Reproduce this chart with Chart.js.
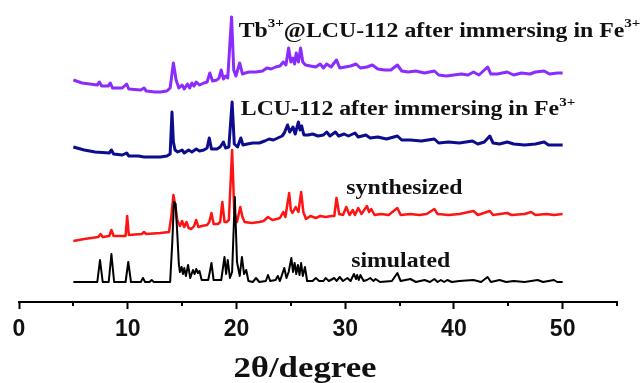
<!DOCTYPE html>
<html>
<head>
<meta charset="utf-8">
<script src="https://cdn.jsdelivr.net/npm/chart.js@4"></script>
<style>
html,body{margin:0;padding:0;background:#fff;}
#wrap{width:640px;height:383px;}
</style>
</head>
<body>
<div id="wrap"><canvas id="c" width="640" height="383"></canvas></div>
<script>
// ---- data (2theta, stacked intensity in arbitrary units) ----
const xTickValues = [0, 10, 20, 30, 40, 50];
const seriesNames = ['Tb@LCU-112 after immersing in Fe', 'LCU-112 after immersing in Fe', 'synthesized', 'simulated'];

const simulated = [[5,20],[7.2,20],[7.45,42],[7.7,20],[8.25,20],[8.5,48],[8.75,20],[9.8,20],[10.05,40],[10.3,20],[11.2,20],[11.4,24],[11.6,20],[12.0,20],[12.2,22],[12.4,20],[13.9,20],[14.1,60],[14.25,100],[14.4,98],[14.55,70],[14.7,38],[14.8,30],[14.95,35],[15.08,28],[15.2,34],[15.35,26],[15.55,37],[15.75,24],[16.0,32],[16.15,28],[16.3,33],[16.45,29],[16.6,31],[16.8,22],[17.4,22],[17.55,30],[17.7,39],[17.9,22],[18.6,22],[18.9,45],[19.05,28],[19.2,42],[19.4,24],[19.6,30],[19.85,105],[20.05,40],[20.3,26],[20.5,45],[20.7,28],[20.9,32],[21.1,21],[21.5,20],[21.8,24],[22.1,20],[22.7,21],[22.9,27],[23.1,21],[23.6,22],[23.8,26],[24.0,21],[24.4,34],[24.6,24],[24.8,30],[25.05,44],[25.2,30],[25.35,39],[25.5,28],[25.65,37],[25.8,27],[25.95,39],[26.1,26],[26.3,35],[26.5,21],[27.0,21],[27.3,24],[27.6,21],[28.0,21],[28.2,24],[28.5,21],[29.0,24],[29.2,21],[29.5,25],[29.8,21],[30.2,24],[30.5,21],[30.8,28],[31.0,23],[31.1,27],[31.25,22],[31.4,27],[31.7,21],[32.0,22],[32.3,24],[32.6,21],[32.8,23],[33.2,20],[34.3,21],[34.8,29],[35.1,21],[36.0,23],[36.5,20],[37.3,22],[37.8,20],[38.2,23],[38.5,20],[38.8,22],[39.1,20],[39.4,22],[39.8,20],[40.5,21],[41.8,22],[42.5,20],[43.1,25],[43.4,20],[44.2,22],[44.8,20],[45.5,21],[46.5,20],[47.7,22],[48.2,20],[49.2,22],[49.5,20],[50,20]];

const synthesized = [[5,61],[6,63],[7.3,65],[7.5,68],[7.7,65],[8.3,66],[8.5,72],[8.7,66],[9.8,66],[9.95,86],[10.1,67],[11.3,68],[11.5,70],[11.7,68],[13.0,69],[13.8,70],[14.0,85],[14.2,107],[14.4,95],[14.55,82],[14.8,76],[15.0,81],[15.2,75],[15.4,80],[15.6,74],[15.85,73],[16.1,76],[16.3,82],[16.5,75],[16.8,76],[17.3,77],[17.5,80],[17.7,89],[17.9,78],[18.3,78],[18.5,80],[18.7,100],[18.9,80],[19.1,80],[19.3,82],[19.6,152],[19.8,90],[20.05,80],[20.35,95],[20.55,85],[20.75,80],[21.4,79],[22.1,80],[22.5,81],[22.9,85],[23.3,82],[23.7,83],[24.0,84],[24.3,90],[24.5,85],[24.85,109],[25.0,92],[25.15,89],[25.45,95],[25.7,90],[25.95,110],[26.15,90],[26.4,83],[26.8,86],[27.3,84],[27.7,86],[28.2,85],[28.7,86],[29.0,86],[29.2,104],[29.45,88],[29.8,87],[30.1,95],[30.4,87],[30.7,92],[30.9,87],[31.2,94],[31.5,88],[32.0,96],[32.2,90],[32.4,93],[32.7,87],[33.3,88],[34.0,87],[34.8,94],[35.1,87],[36.0,88],[36.8,87],[37.5,88],[38.2,93],[38.5,88],[39.5,87],[40.5,88],[41.8,91],[42.2,87],[43.3,91],[43.6,87],[44.9,89],[45.3,87],[46.5,88],[47.1,90],[47.5,87],[48.5,88],[49.2,87],[50,88]];

const lcuFe = [[5,155],[6,152],[7,150],[8.3,149],[8.5,152],[8.7,148],[9.5,147],[9.9,149],[10.1,146],[11,146],[11.5,145],[12.5,145],[13.0,145],[13.6,146],[13.9,148],[14.07,190],[14.2,160],[14.35,152],[14.6,150],[15.0,152],[15.2,149],[15.6,152],[15.9,150],[16.3,153],[16.6,151],[17.0,152],[17.3,154],[17.5,164],[17.7,153],[18.2,153],[18.5,155],[18.8,160],[19.0,154],[19.3,155],[19.6,200],[19.8,158],[20.1,155],[20.4,164],[20.6,157],[21.0,158],[21.5,159],[22.1,159],[22.6,161],[23.0,163],[23.4,162],[23.8,164],[24.2,166],[24.4,169],[24.7,177],[24.9,170],[25.2,175],[25.4,168],[25.7,180],[25.85,172],[26.0,176],[26.2,167],[26.6,167],[27.0,168],[27.5,166],[28.0,167],[28.3,170],[28.6,166],[29.1,170],[29.4,166],[29.9,168],[30.3,166],[30.9,169],[31.2,165],[31.9,167],[32.3,164],[33.0,165],[33.8,163],[34.8,166],[35.2,162],[36.0,162],[37.0,161],[38.2,163],[38.6,159],[39.5,160],[40.5,159],[41.7,161],[42.2,158],[42.8,160],[43.3,166],[43.6,159],[44.2,158],[44.9,160],[45.5,158],[46.5,157],[47.5,158],[48.3,160],[48.7,157],[49.5,157],[50,157]];

const tbLcuFe = [[5,222],[5.8,219],[6.5,218],[7.2,217],[7.4,220],[7.6,216],[8.2,216],[8.4,219],[8.6,214],[9.5,214],[9.9,218],[10.1,213],[11.2,212],[11.5,214],[11.7,211],[12.5,210],[13.0,210],[13.6,211],[13.9,214],[14.2,239],[14.45,222],[14.7,214],[15.0,217],[15.2,213],[15.5,218],[15.7,214],[15.9,219],[16.1,216],[16.3,220],[16.6,217],[17.0,219],[17.3,220],[17.55,229],[17.8,221],[18.2,222],[18.4,224],[18.6,232],[18.8,223],[19.0,226],[19.2,224],[19.55,285],[19.75,232],[19.95,226],[20.3,239],[20.55,228],[20.8,229],[21.2,230],[21.8,230],[22.4,231],[22.8,234],[23.2,233],[23.6,235],[24.0,236],[24.3,240],[24.55,237],[24.8,254],[25.0,240],[25.2,244],[25.35,238],[25.5,249],[25.7,240],[25.9,254],[26.1,240],[26.35,237],[26.8,236],[27.3,235],[27.7,238],[28.0,234],[28.3,238],[28.7,235],[29.2,242],[29.5,234],[30.0,235],[30.5,236],[31.0,238],[31.4,234],[32.0,235],[32.5,237],[33.0,233],[33.6,232],[34.2,232],[34.8,237],[35.2,231],[35.8,230],[36.5,231],[37.3,229],[38.2,231],[38.6,227],[39.3,226],[40.0,227],[40.7,228],[41.3,227],[41.8,230],[42.3,227],[43.1,235],[43.4,228],[44.0,228],[44.9,230],[45.5,227],[46.2,229],[47.0,228],[47.5,230],[48.3,231],[48.8,228],[49.5,229],[50,229]];

// label anchor positions (2theta, stacked value of text baseline)
const labelAnchors = [
  {x: 20.2, y: 265.5, parts: [['Tb',0],['3+',1],['@LCU-112 after immersing in Fe',0],['3+',1]]},
  {x: 20.4, y: 187, parts: [['LCU-112 after immersing in Fe',0],['3+',1]]},
  {x: 30.1, y: 108, parts: [['synthesized',0]]},
  {x: 30.55, y: 35, parts: [['simulated',0]]}
];
const axisTitle = '2θ/degree';

const toXY = arr => arr.map(p => ({x: p[0], y: p[1]}));
const STRETCH = 1.16;

const textPlugin = {
  id: 'textPlugin',
  afterDraw(chart) {
    const {ctx, scales: {x, y}} = chart;
    ctx.save();
    ctx.fillStyle = '#111';
    ctx.textBaseline = 'alphabetic';
    ctx.textAlign = 'left';
    for (const L of labelAnchors) {
      const px = x.getPixelForValue(L.x), py = y.getPixelForValue(L.y);
      ctx.save();
      ctx.translate(px, py);
      ctx.scale(STRETCH, 1);
      let cx = 0;
      for (const [t, sup] of L.parts) {
        ctx.font = sup ? 'bold 13px "Liberation Serif", "Times New Roman", serif' : 'bold 20.5px "Liberation Serif", "Times New Roman", serif';
        ctx.fillText(t, cx, sup ? -9.5 : 0);
        cx += ctx.measureText(t).width;
      }
      ctx.restore();
    }
    // minor ticks
    ctx.strokeStyle = '#000';
    ctx.lineWidth = 2;
    const yb = chart.chartArea.bottom;
    for (let v = 5; v <= 55; v += 10) {
      const px = Math.round(x.getPixelForValue(v));
      ctx.beginPath(); ctx.moveTo(px, yb); ctx.lineTo(px, yb + 4); ctx.stroke();
    }
    // axis title
    ctx.save();
    ctx.translate(x.getPixelForValue(26.3), chart.height - 6);
    ctx.scale(STRETCH, 1);
    ctx.font = 'bold 30px "Liberation Serif", "Times New Roman", serif';
    ctx.textAlign = 'center';
    ctx.fillStyle = '#111';
    ctx.fillText(axisTitle, 0, 0);
    ctx.restore();
    ctx.restore();
  }
};

new Chart(document.getElementById('c'), {
  type: 'line',
  data: {
    datasets: [
      {label: seriesNames[0], data: toXY(tbLcuFe), borderColor: '#8b2cff', borderWidth: 3, order: 3},
      {label: seriesNames[1], data: toXY(lcuFe), borderColor: '#0c0c8c', borderWidth: 3, order: 2},
      {label: seriesNames[2], data: toXY(synthesized), borderColor: '#ff1414', borderWidth: 2.5, order: 1},
      {label: seriesNames[3], data: toXY(simulated), borderColor: '#000000', borderWidth: 2, order: 0}
    ]
  },
  options: {
    responsive: false,
    animation: false,
    events: [],
    layout: {padding: {left: 19, right: 23, top: 2, bottom: 0}},
    elements: {point: {radius: 0}, line: {tension: 0, borderJoinStyle: 'round'}},
    plugins: {legend: {display: false}, tooltip: {enabled: false}, title: {display: false}},
    scales: {
      x: {
        type: 'linear', min: 0, max: 55,
        border: {display: true, color: '#000', width: 2},
        grid: {display: true, drawOnChartArea: false, drawTicks: true, tickLength: 7,
               tickColor: c => (c.tick && c.tick.value % 10 === 0) ? '#000' : 'rgba(0,0,0,0)', tickWidth: 2},
        ticks: {stepSize: 5, autoSkip: false, maxRotation: 0, padding: 7, color: '#111',
                font: {family: '"Liberation Sans", Arial, sans-serif', size: 23, weight: 'bold'},
                callback: v => xTickValues.includes(v) ? String(v) : ''},
        afterFit: s => { s.height = 81; }
      },
      y: {type: 'linear', min: 0, max: 300, display: false}
    }
  },
  plugins: [textPlugin]
});
</script>
</body>
</html>
